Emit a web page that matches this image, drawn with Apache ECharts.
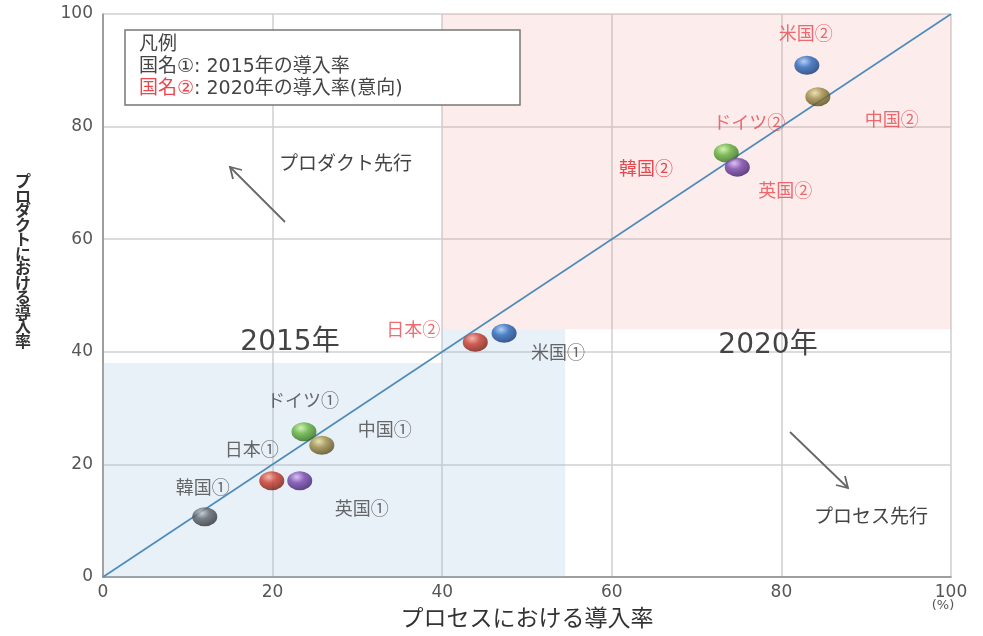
<!DOCTYPE html>
<html>
<head>
<meta charset="utf-8">
<script src="https://cdn.jsdelivr.net/npm/echarts@6/dist/echarts.min.js"></script>
<style>
  html, body { margin: 0; padding: 0; background: #ffffff; }
  #chart { width: 983px; height: 636px; }
</style>
</head>
<body>
<div id="chart"></div>
<script>
// 2015 adoption rates (process, product) by country
const names2015 = ['韓国①', '日本①', '英国①', 'ドイツ①', '中国①', '米国①'];
const process2015 = [12.0, 19.9, 23.2, 23.7, 25.8, 47.3];
const product2015 = [10.7, 17.1, 17.1, 25.8, 23.4, 43.3];

// 2020 adoption rates (intended)
const names2020 = ['日本②', 'ドイツ②', '英国②', '米国②', '中国②'];
const process2020 = [43.9, 73.5, 74.8, 83.0, 84.3];
const product2020 = [41.7, 75.3, 72.8, 90.9, 85.3];

// axis ticks and reference line
const axisTicks = [0, 20, 40, 60, 80, 100];
const diagonal = [[0, 0], [100, 100]];

// shaded zones: [x0, y0, x1, y1]
const zone2020 = [[40, 44, 100, 100]];
const zone2015 = [[0, 0, 54.5, 38], [40, 38, 54.5, 44]];

// sphere colours per country: [highlight, body, shadow]
const ballColors = {
  '韓国': ['#c4c8cf', '#5c6269', '#24272b'],
  '日本': ['#f5a898', '#c9392b', '#6a1208'],
  '英国': ['#d6b6f2', '#7443aa', '#33135c'],
  'ドイツ': ['#cdf2a6', '#5fb03a', '#2a5f10'],
  '中国': ['#e8dca4', '#9b8942', '#4a3c10'],
  '米国': ['#a4c8f6', '#2766ba', '#0b2a66']
};

// label offsets (px) from each sphere's centre
const labelOffsets = {
  '韓国①': [-2, -30], '日本①': [-20, -32], '英国①': [62, 27],
  'ドイツ①': [-1, -32], '中国①': [63, -16], '米国①': [54, 19],
  '日本②': [-62, -13], 'ドイツ②': [23, -31], '英国②': [48, 23],
  '米国②': [-1, -32], '中国②': [74, 22]
};

const FONT = '"DejaVu Sans", "Noto Sans CJK JP", sans-serif';
const CJK = '"Noto Sans CJK JP", "Noto Sans", sans-serif';
const RED = '#e8474d';
const DARK = '#444444';

function ball(country) {
  const c = ballColors[country];
  return {
    type: 'radial', x: 0.38, y: 0.3, r: 0.78,
    colorStops: [
      { offset: 0, color: c[0] },
      { offset: 0.4, color: c[1] },
      { offset: 1, color: c[2] }
    ]
  };
}

function points(names, xs, ys, labelColor) {
  return names.map((n, i) => ({
    name: n,
    value: [xs[i], ys[i]],
    itemStyle: { color: ball(n.slice(0, -1)) },
    label: { offset: labelOffsets[n], color: labelColor }
  }));
}

function zoneData(rects) {
  return rects.map(r => [{ coord: [r[0], r[1]] }, { coord: [r[2], r[3]] }]);
}

const chart = echarts.init(document.getElementById('chart'));

const pointLabel = {
  show: true,
  position: 'inside',
  formatter: '{b}',
  fontFamily: CJK,
  fontSize: 18,
  align: 'center',
  verticalAlign: 'middle'
};

const axisCommon = {
  type: 'value',
  min: axisTicks[0],
  max: axisTicks[axisTicks.length - 1],
  interval: axisTicks[1] - axisTicks[0],
  axisLine: { show: true, lineStyle: { color: '#8a8a8a', width: 1.5 } },
  axisTick: { show: false },
  splitLine: { show: true, lineStyle: { color: '#cfcfcf', width: 1.5 } },
  axisLabel: { color: '#555555', fontSize: 17, fontFamily: FONT }
};

chart.setOption({
  animation: false,
  backgroundColor: '#ffffff',
  grid: { left: 103, right: 32, top: 14, bottom: 59 },
  xAxis: Object.assign({}, axisCommon, {
    name: 'プロセスにおける導入率',
    nameLocation: 'middle',
    nameGap: 29,
    nameTextStyle: { color: '#333333', fontSize: 23, fontFamily: CJK },
    axisLabel: Object.assign({}, axisCommon.axisLabel, { margin: 7 })
  }),
  yAxis: Object.assign({}, axisCommon, {
    axisLabel: Object.assign({}, axisCommon.axisLabel, { margin: 10 })
  }),
  series: [
    {
      type: 'line',
      data: diagonal,
      symbol: 'none',
      silent: true,
      z: 2,
      lineStyle: { color: '#4d8bbb', width: 1.6 },
      markArea: {
        silent: true,
        itemStyle: { color: 'rgba(236, 140, 140, 0.17)' },
        data: zoneData(zone2020)
      }
    },
    {
      type: 'line',
      data: [],
      silent: true,
      markArea: {
        silent: true,
        itemStyle: { color: 'rgba(150, 185, 225, 0.22)' },
        data: zoneData(zone2015)
      }
    },
    {
      name: '2015',
      type: 'scatter',
      symbol: 'circle',
      symbolSize: [25, 19],
      z: 3,
      label: Object.assign({}, pointLabel, { color: DARK }),
      emphasis: { disabled: true },
      data: points(names2015, process2015, product2015, DARK)
    },
    {
      name: '2020',
      type: 'scatter',
      symbol: 'circle',
      symbolSize: [25, 19],
      z: 3,
      label: Object.assign({}, pointLabel, { color: RED }),
      emphasis: { disabled: true },
      data: points(names2020, process2020, product2020, RED)
    }
  ],
  graphic: [
    // legend box
    {
      type: 'rect', z: 10,
      shape: { x: 125, y: 30, width: 395, height: 75 },
      style: { fill: '#ffffff', stroke: '#777777', lineWidth: 1.5 }
    },
    {
      type: 'text', z: 11, x: 139, y: 34,
      style: {
        text: '凡例\n国名①: 2015年の導入率\n{r|国名②}: 2020年の導入率(意向)',
        fontFamily: FONT, fontSize: 19, lineHeight: 22, fill: DARK,
        rich: { r: { fill: RED, fontFamily: FONT, fontSize: 19, lineHeight: 22 } }
      }
    },
    // year captions
    {
      type: 'text', z: 11, x: 290, y: 343,
      style: { text: '2015年', fontFamily: FONT, fontSize: 28, fill: DARK, align: 'center', verticalAlign: 'middle' }
    },
    {
      type: 'text', z: 11, x: 768, y: 346,
      style: { text: '2020年', fontFamily: FONT, fontSize: 28, fill: DARK, align: 'center', verticalAlign: 'middle' }
    },
    // Korea 2020 shares the sphere cluster with Germany / UK
    {
      type: 'text', z: 11, x: 646, y: 168,
      style: { text: '韓国②', fontFamily: CJK, fontSize: 18, fill: RED, align: 'center', verticalAlign: 'middle' }
    },
    // product-leading arrow
    {
      type: 'polyline', z: 11,
      shape: { points: [[285, 222], [230, 167]] },
      style: { stroke: '#666666', lineWidth: 1.8, fill: null }
    },
    {
      type: 'polyline', z: 11,
      shape: { points: [[233, 179], [230, 167], [242, 170]] },
      style: { stroke: '#666666', lineWidth: 1.8, fill: null }
    },
    {
      type: 'text', z: 11, x: 279, y: 163,
      style: { text: 'プロダクト先行', fontFamily: CJK, fontSize: 19, fill: DARK, verticalAlign: 'middle' }
    },
    // process-leading arrow
    {
      type: 'polyline', z: 11,
      shape: { points: [[790, 432], [848, 488]] },
      style: { stroke: '#666666', lineWidth: 1.8, fill: null }
    },
    {
      type: 'polyline', z: 11,
      shape: { points: [[845, 476], [848, 488], [836, 485]] },
      style: { stroke: '#666666', lineWidth: 1.8, fill: null }
    },
    {
      type: 'text', z: 11, x: 871, y: 516,
      style: { text: 'プロセス先行', fontFamily: CJK, fontSize: 19, fill: DARK, align: 'center', verticalAlign: 'middle' }
    },
    // unit under the last x tick
    {
      type: 'text', z: 11, x: 943, y: 606,
      style: { text: '(%)', fontFamily: FONT, fontSize: 13, fill: '#555555', align: 'center', verticalAlign: 'middle' }
    },
    // vertical y-axis title
    {
      type: 'text', z: 11, x: 23, y: 261,
      style: {
        text: 'プロダクトにおける導入率'.split('').join('\n'),
        fontFamily: CJK, fontSize: 16, lineHeight: 14.5, fontWeight: 'bold',
        fill: '#333333', align: 'center', verticalAlign: 'middle'
      }
    }
  ]
});
</script>
</body>
</html>
